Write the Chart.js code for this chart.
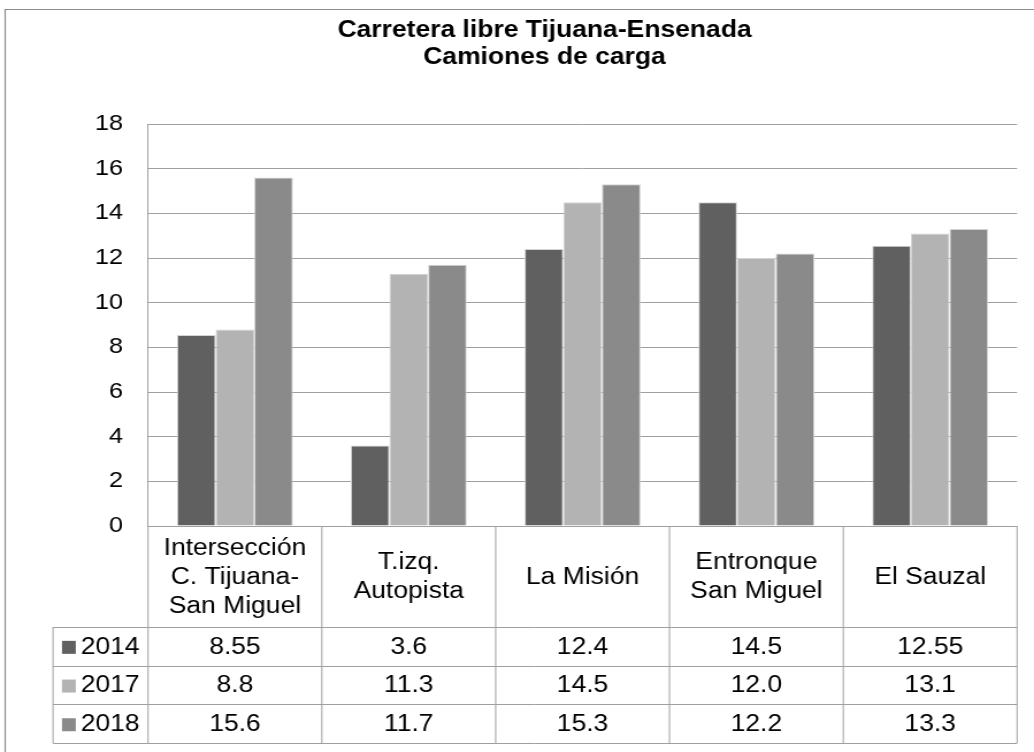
<!DOCTYPE html>
<html lang="es">
<head>
<meta charset="utf-8">
<title>Carretera libre Tijuana-Ensenada</title>
<script src="https://cdn.jsdelivr.net/npm/chart.js@4.4.1/dist/chart.umd.min.js"></script>
<style>
  html, body { margin: 0; padding: 0; background: #fff; overflow: hidden; }
  /* el original está estirado en horizontal, así que se dibuja más estrecho y se estira */
  #chartCanvas { display: block; transform: scaleX(1.15017); transform-origin: 0 0; }
</style>
</head>
<body>
<canvas id="chartCanvas" width="899" height="752"></canvas>
<script>
const titleLines = ['Carretera libre Tijuana-Ensenada', 'Camiones de carga'];
const categories = [
  ['Intersección', 'C. Tijuana-', 'San Miguel'],
  ['T.izq.', 'Autopista'],
  ['La Misión'],
  ['Entronque', 'San Miguel'],
  ['El Sauzal']
];
const years = ['2014', '2017', '2018'];
const values2014 = [8.55, 3.6, 12.4, 14.5, 12.55];
const values2017 = [8.8, 11.3, 14.5, 12.0, 13.1];
const values2018 = [15.6, 11.7, 15.3, 12.2, 13.3];
const yTicks = [0, 2, 4, 6, 8, 10, 12, 14, 16, 18];

const FONT = "'Liberation Sans', Arial, sans-serif";
const colors = ['#606060', '#b3b3b3', '#8a8a8a'];
const lineColor = '#a0a0a0';
const seriesValues = [values2014, values2017, values2018];

function fmt(v) {
  return Number.isInteger(v) ? v.toFixed(1) : String(v);
}

// fondo y marco exterior
const framePlugin = {
  id: 'frame',
  beforeDraw(chart) {
    const ctx = chart.ctx;
    ctx.save();
    ctx.fillStyle = '#fff';
    ctx.fillRect(0, 0, chart.width, chart.height);
    ctx.strokeStyle = '#8c8c8c';
    ctx.lineWidth = 1.2;
    ctx.beginPath();
    ctx.moveTo(4.5, chart.height);
    ctx.lineTo(4.5, 9.5);
    ctx.lineTo(chart.width, 9.5);
    ctx.stroke();
    ctx.restore();
  }
};

// tabla de datos debajo del eje X (como en Excel)
const dataTablePlugin = {
  id: 'dataTable',
  afterDraw(chart) {
    const ctx = chart.ctx;
    const area = chart.chartArea;
    const xScale = chart.scales.x;
    const colW = (area.right - area.left) / categories.length;
    const top = area.bottom;
    const headerBottom = top + 101;
    const rowH = 38.7;
    const bottom = headerBottom + rowH * years.length;
    const legendLeft = 46.1;

    ctx.save();
    ctx.strokeStyle = lineColor;
    ctx.lineWidth = 1;
    ctx.beginPath();
    ctx.moveTo(area.left, Math.round(top) + 0.5);
    ctx.lineTo(area.right, Math.round(top) + 0.5);
    for (let r = 0; r <= years.length; r++) {
      const y = Math.round(headerBottom + r * rowH) + 0.5;
      ctx.moveTo(legendLeft, y);
      ctx.lineTo(area.right, y);
    }
    for (let i = 0; i <= categories.length; i++) {
      const x = area.left + i * colW;
      ctx.moveTo(x, top);
      ctx.lineTo(x, bottom);
    }
    ctx.moveTo(legendLeft, headerBottom);
    ctx.lineTo(legendLeft, bottom);
    ctx.stroke();

    ctx.fillStyle = '#000';
    ctx.font = '23px ' + FONT;
    ctx.textAlign = 'center';
    ctx.textBaseline = 'middle';

    // encabezados de categoría
    const lineGap = 29;
    categories.forEach((lines, i) => {
      const cx = xScale.getPixelForValue(i);
      const cy = (top + headerBottom) / 2 + 1;
      const start = cy - (lines.length - 1) * lineGap / 2;
      lines.forEach((txt, k) => ctx.fillText(txt, cx, start + k * lineGap));
    });

    // filas de valores
    years.forEach((year, r) => {
      const cy = headerBottom + r * rowH + rowH / 2 + 1;
      ctx.fillStyle = colors[r];
      ctx.fillRect(53.9, cy - 6.5, 12, 13);
      ctx.fillStyle = '#000';
      ctx.textAlign = 'left';
      ctx.fillText(year, 70.2, cy);
      ctx.textAlign = 'center';
      seriesValues[r].forEach((v, i) => {
        ctx.fillText(fmt(v), xScale.getPixelForValue(i), cy);
      });
    });
    ctx.restore();
  }
};

const ctx = document.getElementById('chartCanvas');

new Chart(ctx, {
  type: 'bar',
  data: {
    labels: categories.map(c => c.join(' ')),
    datasets: years.map((year, i) => ({
      label: year,
      data: seriesValues[i],
      backgroundColor: colors[i],
      borderColor: '#d4d4d4',
      borderWidth: 1,
      categoryPercentage: 0.667,
      barPercentage: 1.0
    }))
  },
  options: {
    responsive: false,
    animation: false,
    devicePixelRatio: 1,
    layout: {
      padding: { left: 62.6, right: 14.7, top: 0, bottom: 226 }
    },
    plugins: {
      legend: { display: false },
      tooltip: { enabled: false },
      title: {
        display: true,
        text: titleLines,
        color: '#000',
        font: { family: FONT, size: 23, weight: 'bold', lineHeight: 1.174 },
        padding: { top: 17.5, bottom: 52.5 }
      }
    },
    scales: {
      x: {
        display: false
      },
      y: {
        min: 0,
        max: 18,
        afterFit(scale) { scale.width = 66.1; },
        afterBuildTicks(scale) { scale.ticks = yTicks.map(v => ({ value: v })); },
        grid: { color: lineColor, lineWidth: 1, drawTicks: false },
        border: { display: true, color: lineColor, width: 1 },
        ticks: {
          color: '#000',
          padding: 21.7,
          font: { family: FONT, size: 22 }
        }
      }
    }
  },
  plugins: [framePlugin, dataTablePlugin]
});
</script>
</body>
</html>
